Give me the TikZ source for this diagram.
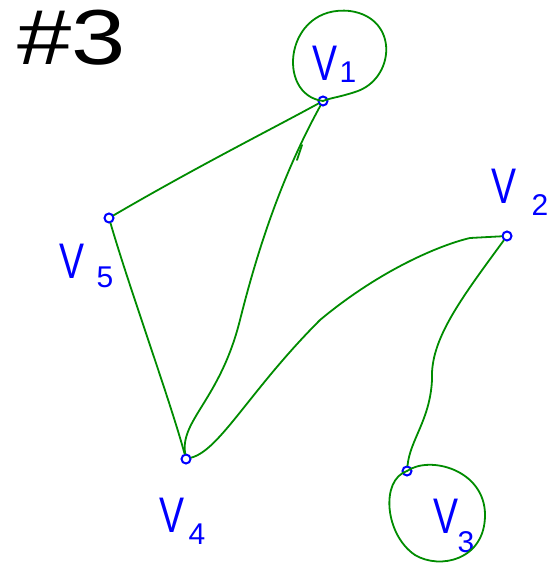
\documentclass[tikz,border=0pt]{standalone}
\usepackage{fontspec}
\setmainfont{Liberation Sans}
\begin{document}
\begin{tikzpicture}[x=1pt,y=-1pt,
  vtx/.style={circle,draw=blue,line width=2pt,inner sep=0pt,minimum size=9pt},
  edge/.style={draw=green!55!black,line width=1.8pt,line cap=round},
  lbl/.style={text=blue,inner sep=0pt,xscale=0.75,font=\fontsize{50}{50}\selectfont},
  lblsub/.style={text=blue,inner sep=0pt,font=\fontsize{30}{30}\selectfont}]
\useasboundingbox (0,0) rectangle (552,567);
\fill[white] (0,0) rectangle (552,567);
% title
\node[xscale=1.25,font=\fontsize{78}{78}\selectfont] (title) at (72,38) {\#3};
% vertices
\node[vtx] (v1) at (323,101) {};
\node[vtx] (v2) at (507,236) {};
\node[vtx] (v3) at (407,471) {};
\node[vtx] (v4) at (186,459) {};
\node[vtx] (v5) at (109,218) {};
% labels
\node[lbl] (l1) at (325,63) {V};
\node[lblsub] (l1s) at (348,72) {1};
\node[lbl] (l2) at (504,186) {V};
\node[lblsub] (l2s) at (540,205) {2};
\node[lbl] (l3) at (446,516) {V};
\node[lblsub] (l3s) at (466,542) {3};
\node[lbl] (l4) at (172,515) {V};
\node[lblsub] (l4s) at (197,534) {4};
\node[lbl] (l5) at (72,261) {V};
\node[lblsub] (l5s) at (105,277) {5};
% loops
\draw[edge] (v1.center) .. controls (275,95) and (285,4) .. (350,11)
  .. controls (400,18) and (395,80) .. (355,92) .. controls (340,97) and (330,98) .. (v1.center);
\draw[edge] (v3.center) .. controls (430,455) and (485,470) .. (485,515)
  .. controls (485,560) and (440,570) .. (415,555) .. controls (385,535) and (380,480) .. (v3.center);
% edges
\draw[edge] (v1) .. controls (270,130) and (200,165) .. (v5);
\draw[edge] (v1) .. controls (285,170) and (260,240) .. (240,320) .. controls (220,400) and (180,420) .. (v4);
\draw[edge] (v5) .. controls (130,290) and (170,400) .. (v4);
\draw[edge] (v4) .. controls (220,450) and (250,390) .. (320,320) .. controls (380,270) and (440,245) .. (470,238) -- (v2);
\draw[edge] (v2) .. controls (460,300) and (430,340) .. (432,380) .. controls (430,420) and (410,440) .. (v3);
% stray stroke
\coordinate (t1) at (302,145);
\coordinate (t2) at (297,160);
\draw[edge] (t1) -- (t2);
\end{tikzpicture}
\end{document}
